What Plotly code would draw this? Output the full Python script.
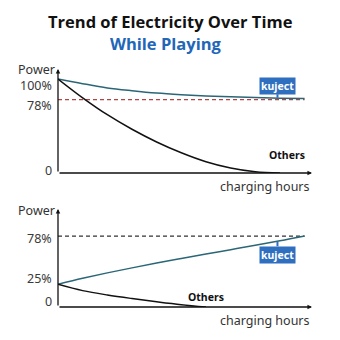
import plotly.graph_objects as go

# ---- data ----
hours = [0, 1, 2, 3, 4, 5, 6, 7, 8, 9, 10]
top_kuject = [100, 95, 90.5, 87.5, 85, 83.3, 82, 81, 80.2, 79.6, 79.2]
top_others_hours = [0, 1, 2, 3, 4, 5, 6, 7, 8, 9]
top_others = [100, 80, 62, 46.5, 33, 21.5, 12, 5.3, 1.3, 0]
top_ref = 78
top_ticks = [0, 78, 100]
top_ticktext = ["0", "78%", "100%"]

bot_kuject = [25, 31.5, 37.5, 43, 48.3, 53.3, 58.2, 63, 67.8, 72.7, 78]
bot_others_hours = [0, 1, 2, 3, 4, 5, 6]
bot_others = [25, 18, 13.2, 9.3, 5.8, 2.6, 0]
bot_ref = 78
bot_ticks = [0, 25, 78]
bot_ticktext = ["0", "25%", "78%"]

title1 = "Trend of Electricity Over Time"
title2 = "While Playing"

# ---- style ----
KUJ = "#2b6677"
BOX = "#2f6fc0"
FONT = "Noto Sans"
XMAX = 10.3
TOP_YMAX = 110.6
BOT_YMAX = 107.7
TOP_LABEL_SHIFT = [3, -6, -7]
BOT_LABEL_SHIFT = [6, 6, -2]

fig = go.Figure()

def line(x, y, color, width, xa, ya, dash=None, shape="spline"):
    fig.add_trace(go.Scatter(x=x, y=y, mode="lines", xaxis=xa, yaxis=ya,
                             line=dict(color=color, width=width, dash=dash, shape=shape),
                             hoverinfo="skip", showlegend=False))

# top chart
line([hours[0], hours[-1]], [top_ref, top_ref], "#b04444", 1.2, "x", "y", dash="4px,3px", shape="linear")
line(hours, top_kuject, KUJ, 1.5, "x", "y")
line(top_others_hours, top_others, "#111111", 1.5, "x", "y")
# bottom chart
line([hours[0], hours[-1]], [bot_ref, bot_ref], "#333333", 1.2, "x2", "y2", dash="4px,3px", shape="linear")
line(hours, bot_kuject, KUJ, 1.5, "x2", "y2")
line(bot_others_hours, bot_others, "#111111", 1.5, "x2", "y2")

axis_common = dict(showgrid=False, zeroline=False, showline=False, showticklabels=False, ticks="")
fig.update_layout(
    width=340, height=340, margin=dict(l=0, r=0, t=0, b=0),
    paper_bgcolor="white", plot_bgcolor="white",
    font=dict(family=FONT, color="#333333", size=12),
    xaxis=dict(domain=[58/340, 312/340], range=[0, XMAX], **axis_common),
    yaxis=dict(domain=[1-173/340, 1-69/340], range=[0, TOP_YMAX], **axis_common),
    xaxis2=dict(domain=[58/340, 312/340], range=[0, XMAX], anchor="y2", **axis_common),
    yaxis2=dict(domain=[1-307/340, 1-209/340], range=[0, BOT_YMAX], anchor="x2", **axis_common),
)

ann = []
# axes with arrowheads
for xa, ya, ymax in [("x", "y", TOP_YMAX), ("x2", "y2", BOT_YMAX)]:
    ann.append(dict(x=XMAX, y=0, ax=0, ay=0, xref=xa, yref=ya, axref=xa, ayref=ya, text="",
                    showarrow=True, arrowhead=2, arrowsize=0.7, arrowwidth=1.3, arrowcolor="#111111"))
    ann.append(dict(x=0, y=ymax, ax=0, ay=0, xref=xa, yref=ya, axref=xa, ayref=ya, text="",
                    showarrow=True, arrowhead=2, arrowsize=0.7, arrowwidth=1.3, arrowcolor="#111111"))
    ann.append(dict(x=0, y=ymax, xref=xa, yref=ya, text="Power", showarrow=False, xanchor="right",
                    yanchor="middle", xshift=-1, yshift=-1, font=dict(size=12.5, color="#333333")))
    ann.append(dict(x=XMAX, y=0, xref=xa, yref=ya, text="charging hours", showarrow=False, xanchor="right",
                    yanchor="top", yshift=-3, font=dict(size=12.5, color="#333333")))

# tick labels placed at the tick values
for ya, ticks, texts, shifts in [("y", top_ticks, top_ticktext, TOP_LABEL_SHIFT),
                                  ("y2", bot_ticks, bot_ticktext, BOT_LABEL_SHIFT)]:
    xa = "x" if ya == "y" else "x2"
    for v, t, s in zip(ticks, texts, shifts):
        ann.append(dict(x=0, y=v, xref=xa, yref=ya, text=t, showarrow=False, xanchor="right",
                        yanchor="middle", xshift=-4, yshift=s, font=dict(size=12.5, color="#3a3a3a")))

# kuject labels
ann.append(dict(x=8.9, y=top_kuject[9] + 0.4, xref="x", yref="y", text="<b>kuject</b>", showarrow=True,
                arrowhead=0, arrowwidth=2, arrowcolor=BOX, ax=0, ay=-12, bgcolor=BOX, borderpad=1,
                font=dict(color="white", size=10.5)))
ann.append(dict(x=8.9, y=bot_kuject[9] - 1, xref="x2", yref="y2", text="<b>kuject</b>", showarrow=True,
                arrowhead=0, arrowwidth=2, arrowcolor=BOX, ax=0, ay=13, bgcolor=BOX, borderpad=1,
                font=dict(color="white", size=10.5)))
# others labels
ann.append(dict(x=9.3, y=19, xref="x", yref="y", text="<b>Others</b>", showarrow=False,
                font=dict(color="#111111", size=10.5)))
ann.append(dict(x=6.0, y=11, xref="x2", yref="y2", text="<b>Others</b>", showarrow=False,
                font=dict(color="#111111", size=10.5)))
# titles
ann.append(dict(x=0.5, y=1-22/340, xref="paper", yref="paper", text="<b>" + title1 + "</b>", showarrow=False,
                font=dict(family="Open Sans", size=16.5, color="#111111"), yanchor="middle"))
ann.append(dict(x=0.487, y=1-43/340, xref="paper", yref="paper", text="<b>" + title2 + "</b>", showarrow=False,
                font=dict(family="Open Sans", size=16.5, color="#2266b8"), yanchor="middle"))
fig.update_layout(annotations=ann)

fig.write_html("out.html")
